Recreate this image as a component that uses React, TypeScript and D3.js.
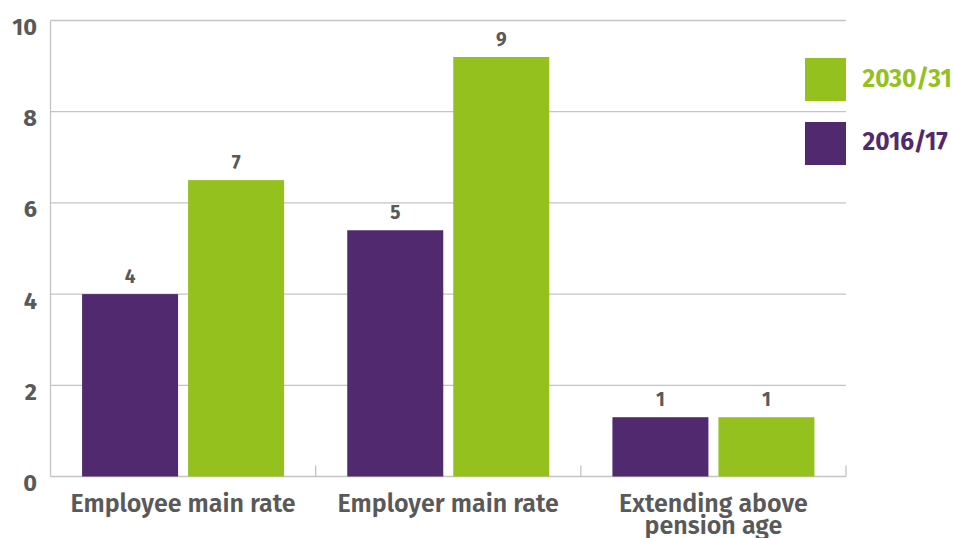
import React from "react";
import * as d3 from "d3";

const categories = ["Employee main rate", "Employer main rate", "Extending above pension age"];
const categoryLines = [["Employee main rate"], ["Employer main rate"], ["Extending above", "pension age"]];
const seriesNames = ["2016/17", "2030/31"];
const values2016 = [4.0, 5.4, 1.3];
const values2030 = [6.5, 9.2, 1.3];
const yTicks = [0, 2, 4, 6, 8, 10];

const W = 953, H = 538;
const PURPLE = "#51296e";
const GREEN = "#95c11f";
const TEXT = "#595959";
const GRID = "#c4c4c4";
const FONT = "'Fira Sans', 'Open Sans', sans-serif";

export default function App() {
  const left = 50.5, right = 846, top = 20.5, bottom = 476.5;
  const y = d3.scaleLinear().domain([0, 10]).range([bottom, top]);
  const x0 = d3.scaleBand<string>().domain(categories).range([left, right]).paddingInner(0).paddingOuter(0);
  const bandW = x0.bandwidth();
  const barW = 96, gap = 10;
  const groupOff = (bandW - (2 * barW + gap)) / 2;
  const series = [values2016, values2030];
  const colors = [PURPLE, GREEN];

  return (
    <svg width={W} height={H} style={{ position: "absolute", left: 0, top: 0, fontFamily: FONT }}>
      <rect x={0} y={0} width={W} height={H} fill="#fff" />
      {yTicks.map((t) => (
        <g key={t}>
          <line x1={left} x2={right} y1={y(t)} y2={y(t)} stroke={GRID} strokeWidth={1.3} />
          <text x={37} y={y(t) + 14.5} textAnchor="end" fill={TEXT} fontSize={23.5} fontWeight={700}>
            {t}
          </text>
        </g>
      ))}
      <line x1={left} x2={left} y1={top} y2={bottom} stroke={GRID} strokeWidth={1.3} />
      {[...categories.map((c) => x0(c)!), right].map((xv, i) =>
        i === 0 ? null : (
          <line key={i} x1={xv} x2={xv} y1={bottom} y2={bottom - 11} stroke={GRID} strokeWidth={1.3} />
        )
      )}
      {categories.map((c, ci) => (
        <g key={c}>
          {series.map((vals, si) => {
            const bx = x0(c)! + groupOff + si * (barW + gap);
            const v = vals[ci];
            return (
              <g key={si}>
                <rect x={bx} y={y(v)} width={barW} height={bottom - y(v)} fill={colors[si]} />
                <text x={bx + barW / 2} y={y(v) - 11} textAnchor="middle" fill={TEXT} fontSize={19} fontWeight={700}>
                  {Math.round(v)}
                </text>
              </g>
            );
          })}
          {categoryLines[ci].map((ln, li) => (
            <text key={li} x={x0(c)! + bandW / 2} y={511.5 + li * 22.5} textAnchor="middle" fill={TEXT} fontSize={25} fontWeight={600}>
              {ln}
            </text>
          ))}
        </g>
      ))}
      {/* legend */}
      <rect x={805} y={58} width={41} height={43} fill={GREEN} />
      <text x={862.5} y={87.3} fill={GREEN} fontSize={24.5} fontWeight={700}>{seriesNames[1]}</text>
      <rect x={805} y={122} width={41} height={43} fill={PURPLE} />
      <text x={862.5} y={149.5} fill={PURPLE} fontSize={24.5} fontWeight={700}>{seriesNames[0]}</text>
    </svg>
  );
}
